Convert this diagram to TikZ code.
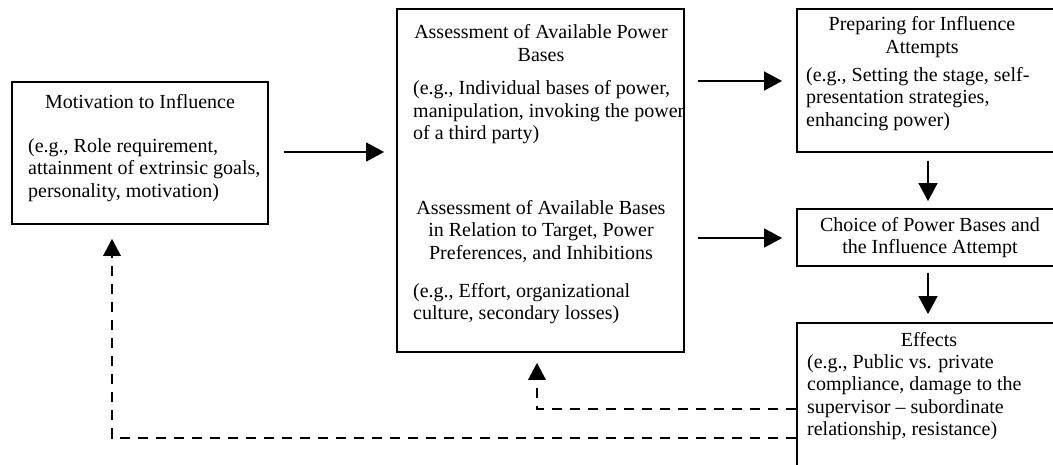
\documentclass[tikz,border=0pt]{standalone}
\usepackage{fontspec}
\setmainfont{Liberation Serif}
\usetikzlibrary{arrows.meta,calc}
\begin{document}
\begin{tikzpicture}[x=1pt,y=-1pt,
  box/.style={draw, line width=1.8pt, inner sep=0pt},
  ttl/.style={align=center, inner sep=0pt, font=\fontsize{20}{22.5}\selectfont},
  bdy/.style={align=left, inner sep=0pt, anchor=west, font=\fontsize{20}{22.5}\selectfont},
  arr/.style={line width=1.2pt, -{Triangle[length=18pt,width=19pt]}},
  fb/.style={line width=2pt, dash pattern=on 10pt off 8pt}]
\useasboundingbox (0,0) rectangle (1053,464);
\clip (0,0) rectangle (1053,464);
% boxes
\node[box, minimum width=256pt, minimum height=142pt] (A) at (140,153) {};
\node[box, minimum width=287pt, minimum height=343pt] (B) at (540.5,180.5) {};
\node[box, minimum width=273pt, minimum height=143pt] (C) at (933.5,80.5) {};
\node[box, minimum width=273pt, minimum height=57pt] (D) at (933.5,237.5) {};
\node[box, minimum width=273pt, minimum height=160pt] (E) at (933.5,403) {};
% texts
\node[ttl] (At) at (140,102) {Motivation to Influence};
\node[bdy] (Ab) at (28,170) {(e.g., Role requirement,\\attainment of extrinsic goals,\\personality, motivation)};
\node[ttl] (Bt1) at (541,43) {Assessment of Available Power\\Bases};
\node[bdy] (Bb1) at (413,112.5) {(e.g., Individual bases of power,\\manipulation, invoking the power\\of a third party)};
\node[ttl] (Bt2) at (541,231) {Assessment of Available Bases\\in Relation to Target, Power\\Preferences, and Inhibitions};
\node[bdy] (Bb2) at (413,303.5) {(e.g., Effort, organizational\\culture, secondary losses)};
\node[ttl] (Ct) at (922,37) {Preparing for Influence\\Attempts};
\node[bdy] (Cb) at (806,99) {(e.g., Setting the stage, self-\\presentation strategies,\\enhancing power)};
\node[ttl] (Dt) at (930,237.5) {Choice of Power Bases and\\the Influence Attempt};
\node[ttl] (Et) at (929,340) {Effects};
\node[bdy] (Eb) at (807,397) {(e.g., Public vs. private\\compliance, damage to the\\supervisor -- subordinate\\relationship, resistance)};
% solid arrows
\draw[arr, shorten <=15pt, shorten >=12pt] (A.east |- 0,152) -- (B.west |- 0,152);
\draw[arr, shorten <=13pt, shorten >=14pt] (B.east |- 0,81) -- (C.west |- 0,81);
\draw[arr, shorten <=13pt, shorten >=14pt] (B.east |- 0,238) -- (D.west |- 0,238);
\draw[arr, shorten <=8pt, shorten >=7pt] (C.south -| 928,0) -- (D.north -| 928,0);
\draw[arr, shorten <=6pt, shorten >=8pt] (D.south -| 928,0) -- (E.north -| 928,0);
% feedback dashed
\coordinate (lo) at (112,438);
\coordinate (up) at (537,409);
\draw[fb] (E.west |- lo) -- (lo) -- ([yshift=-28pt]A.south -| lo);
\draw[fb] (E.west |- up) -- (up) -- ([yshift=-24pt]B.south -| up);
\fill ([yshift=-14pt]A.south -| lo) -- ++(-9,17) -- ++(18,0) -- cycle;
\fill ([yshift=-10pt]B.south -| up) -- ++(-9,17) -- ++(18,0) -- cycle;
\end{tikzpicture}
\end{document}
